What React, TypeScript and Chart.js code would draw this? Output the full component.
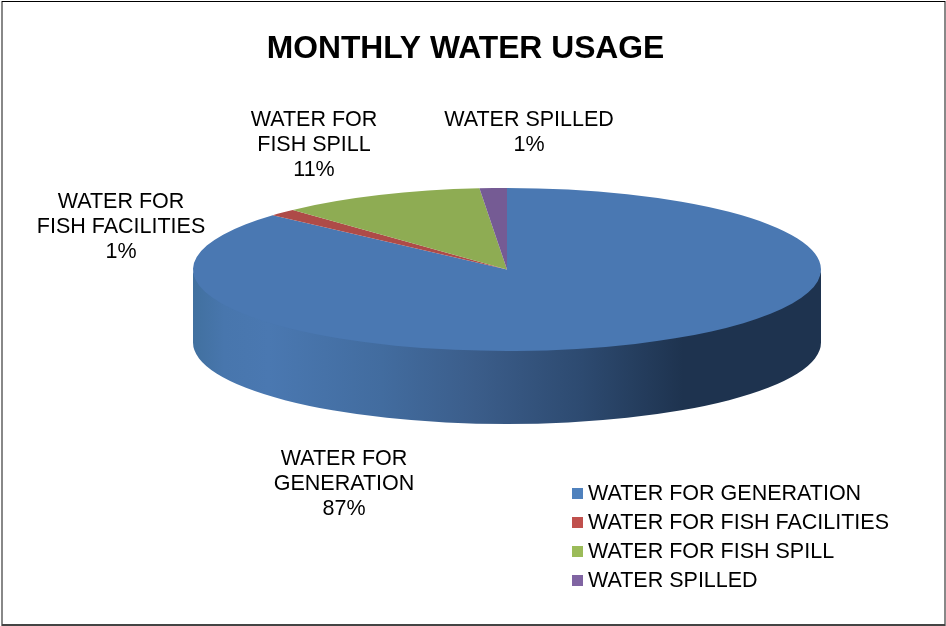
import React, { useEffect, useRef } from "react";
import { Chart, registerables } from "chart.js";

Chart.register(...registerables);

const chartTitle = "MONTHLY WATER USAGE";
const categories = ["WATER FOR GENERATION", "WATER FOR FISH FACILITIES", "WATER FOR FISH SPILL", "WATER SPILLED"];
const shareValues = [86.6, 1.45, 10.55, 1.4];
const sliceColors = ["#4A78B2", "#AE4B48", "#8EAC53", "#755B94"];
const legendColors = ["#4F81BD", "#C0504D", "#9BBB59", "#8064A2"];
const labelLines = [
  ["WATER FOR", "GENERATION"],
  ["WATER FOR", "FISH FACILITIES"],
  ["WATER FOR", "FISH SPILL"],
  ["WATER SPILLED"],
];

const FONT = '"Liberation Sans", Arial, sans-serif';
const labelCentres = [
  { x: 344, y: 459 },
  { x: 121, y: 202 },
  { x: 314, y: 120 },
  { x: 529, y: 120 },
];
const TILT = 81.5 / 314;
const DEPTH = 73;
const sideStops: [number, string][] = [
  [0, "#41709F"],
  [0.05, "#4876AD"],
  [0.12, "#4A78B1"],
  [0.3, "#426C9F"],
  [0.45, "#3B5D8A"],
  [0.62, "#2D4A70"],
  [0.78, "#1E334F"],
  [1, "#1E334F"],
];

const pie3d = {
  id: "pie3d",
  beforeDatasetsDraw(chart: any) {
    const { ctx } = chart;
    const arcs = chart.getDatasetMeta(0).data;
    const { x: cx, y: cy, outerRadius: r } = arcs[0];
    const ry = r * TILT;
    const grad = ctx.createLinearGradient(cx - r, 0, cx + r, 0);
    sideStops.forEach(([p, c]) => grad.addColorStop(p, c));
    // Visible wall: the part of each slice's rim on the near half of the ellipse.
    arcs.forEach((arc: any) => {
      const a = Math.max(arc.startAngle, 0);
      const b = Math.min(arc.endAngle, Math.PI);
      if (b <= a) return;
      ctx.beginPath();
      ctx.ellipse(cx, cy + DEPTH, r, ry, 0, a, b, false);
      ctx.ellipse(cx, cy - 2, r, ry, 0, b, a, true);
      ctx.closePath();
      ctx.fillStyle = grad;
      ctx.fill();
    });
    ctx.save();
    ctx.translate(cx, cy);
    ctx.scale(1, TILT);
    ctx.translate(-cx, -cy);
  },
  afterDatasetsDraw(chart: any) {
    const { ctx } = chart;
    ctx.restore();
    ctx.save();
    ctx.fillStyle = "#000";
    ctx.textAlign = "center";
    ctx.textBaseline = "middle";
    ctx.font = `bold 31.8px ${FONT}`;
    ctx.fillText(chartTitle, 465.5, 49);

    ctx.font = `21.5px ${FONT}`;
    const total = shareValues.reduce((s, v) => s + v, 0);
    labelLines.forEach((lines, i) => {
      const all = [...lines, `${Math.round((shareValues[i] / total) * 100)}%`];
      all.forEach((t, j) => ctx.fillText(t, labelCentres[i].x, labelCentres[i].y + j * 25));
    });

    ctx.textAlign = "left";
    categories.forEach((name, i) => {
      const y = 493 + i * 29;
      ctx.fillStyle = legendColors[i];
      ctx.fillRect(572, y - 5, 11, 11);
      ctx.fillStyle = "#000";
      ctx.fillText(name, 588, y + 1);
    });

    // Frame: black top, grey sides, dark bottom.
    ctx.fillStyle = "#888888";
    ctx.fillRect(1, 1, 2, 625);
    ctx.fillRect(944, 1, 2, 625);
    ctx.fillStyle = "#000000";
    ctx.fillRect(2, 1, 943, 1);
    ctx.fillStyle = "#444444";
    ctx.fillRect(2, 624, 943, 2);
    ctx.restore();
  },
};

export default function App() {
  const ref = useRef<HTMLCanvasElement>(null);
  useEffect(() => {
    document.body.style.margin = "0";
    const chart = new Chart(ref.current!, {
      type: "pie",
      data: {
        labels: categories,
        datasets: [{ data: shareValues, backgroundColor: sliceColors, borderWidth: 0 }],
      },
      options: {
        animation: false,
        responsive: false,
        radius: 314,
        layout: { padding: { left: 68, bottom: 87 } },
        plugins: { legend: { display: false }, title: { display: false }, tooltip: { enabled: false } },
      } as any,
      plugins: [pie3d],
    });
    return () => chart.destroy();
  }, []);
  return <canvas ref={ref} width={946} height={626} style={{ display: "block", background: "#fff" }} />;
}
